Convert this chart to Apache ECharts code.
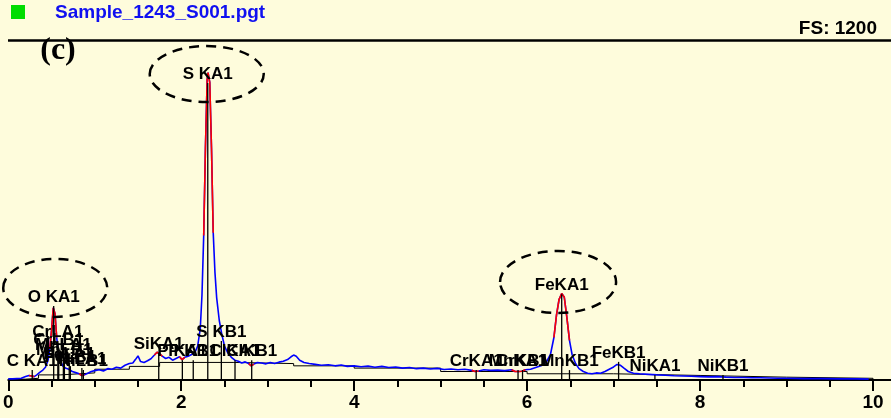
<!DOCTYPE html>
<html>
<head>
<meta charset="utf-8">
<script src="https://cdn.jsdelivr.net/npm/echarts@6/dist/echarts.min.js"></script>
<style>
html,body{margin:0;padding:0;background:#FEFCDC;}
#chart{width:891px;height:418px;}
</style>
</head>
<body>
<div id="chart"></div>
<script>
// ---- DATA ----
const title = 'Sample_1243_S001.pgt';
const fullScale = 'FS: 1200';
const panelTag = '(c)';
const xTicks = [0, 2, 4, 6, 8, 10];

// measured spectrum (keV, counts)
const energies = [0.00,0.05,0.10,0.15,0.20,0.24,0.27,0.30,0.33,0.36,0.40,0.43,0.46,0.48,0.50,0.52,0.54,0.56,0.58,0.60,0.63,0.66,0.70,0.74,0.78,0.82,0.85,0.88,0.92,0.96,1.00,1.05,1.10,1.15,1.20,1.25,1.30,1.35,1.40,1.44,1.47,1.50,1.53,1.57,1.61,1.65,1.69,1.72,1.75,1.78,1.82,1.86,1.90,1.94,1.98,2.01,2.04,2.08,2.12,2.16,2.19,2.22,2.24,2.26,2.28,2.30,2.31,2.33,2.35,2.37,2.39,2.41,2.44,2.47,2.50,2.54,2.58,2.62,2.66,2.70,2.74,2.78,2.81,2.84,2.88,2.93,2.98,3.03,3.08,3.13,3.18,3.23,3.27,3.30,3.33,3.37,3.42,3.48,3.55,3.62,3.70,3.78,3.85,3.92,4.00,4.08,4.16,4.24,4.32,4.40,4.48,4.56,4.64,4.72,4.80,4.88,4.96,5.04,5.12,5.20,5.28,5.36,5.40,5.44,5.50,5.58,5.66,5.74,5.82,5.86,5.90,5.94,5.98,6.04,6.10,6.16,6.22,6.27,6.31,6.34,6.37,6.40,6.43,6.46,6.49,6.52,6.56,6.60,6.65,6.70,6.75,6.80,6.85,6.90,6.95,7.00,7.04,7.08,7.12,7.17,7.23,7.30,7.40,7.50,7.60,7.70,7.80,7.90,8.00,8.10,8.20,8.30,8.40,8.50,8.60,8.70,8.80,8.90,9.00,9.20,9.40,9.60,9.80,9.95];
const counts = [4,4,5,6,12,16,14,12,18,26,35,45,70,110,175,255,235,150,95,70,50,42,38,30,26,22,16,18,24,30,33,36,32,40,38,45,42,52,58,60,72,85,65,62,68,75,88,98,92,84,76,80,70,76,82,72,80,84,90,98,120,180,300,510,820,1060,1085,1050,820,520,380,290,210,160,120,95,80,70,66,60,64,58,50,56,62,60,57,62,58,63,66,72,82,88,84,70,62,58,55,52,54,50,53,48,50,47,49,45,48,44,46,42,44,40,42,39,41,37,39,36,38,34,30,32,36,34,35,33,36,30,30,31,36,38,44,50,62,90,150,230,285,305,292,220,140,90,58,40,30,24,22,25,24,30,38,46,55,52,42,30,24,22,20,18,17,15,14,13,12,11,12,10,9,9,8,8,7,6,6,5,5,4,4,3];

// highlighted regions of interest (keV ranges)
const roiStart = [0.24,0.48,0.82,1.69,1.98,2.26,2.78,5.36,5.82,6.31];
const roiEnd   = [0.30,0.56,0.88,1.78,2.04,2.37,2.84,5.44,5.98,6.49];

// fitted background (keV, counts)
const bgEnergies = [0,0.2,0.35,0.6,1.0,1.4,1.75,2.6,3.3,4.0,5.0,6.0,7.0,8.0,9.0,10.0];
const bgCounts   = [3,6,18,25,38,48,62,58,50,42,30,22,16,10,6,3];

// line identifications: name, energy (keV), label height (counts)
const lineNames    = ['C KA1','CrLA1','CrLB1','MnLA1','MnLB1','FeLA1','FeLB1','NiLA1','NiLB1','O KA1','SiKA1','P KA1','P KB1','S KA1','S KB1','ClKA1','ClKB1','CrKA1','MnKA1','CrKB1','FeKA1','MnKB1','FeKB1','NiKA1','NiKB1'];
const lineEnergies = [0.277,0.573,0.583,0.637,0.649,0.705,0.718,0.851,0.868,0.525,1.740,2.013,2.139,2.307,2.464,2.622,2.815,5.411,5.895,5.947,6.400,6.490,7.058,7.478,8.265];
const lineHeights  = [35,138,109,92,74,60,49,42,35,261,95,70,70,1048,138,70,70,35,35,35,303,35,64,18,18];

// circled lines: energy, counts of ellipse centre
const circleEnergies = [0.543,2.295,6.358];
const circleCounts   = [325,1080,346];

// ---- BUILD ----
const spectrum = energies.map((e,i)=>[e,counts[i]]);
const roiData = [];
roiStart.forEach((s,k)=>{
  spectrum.forEach(p=>{ if(p[0]>=s-1e-9 && p[0]<=roiEnd[k]+1e-9) roiData.push(p); });
  roiData.push([null,null]);
});
const bgData = bgEnergies.map((e,i)=>[e,bgCounts[i]]);
const lineData = lineNames.map((n,i)=>[lineEnergies[i], lineHeights[i], n]);

const chart = echarts.init(document.getElementById('chart'), null, {renderer:'canvas'});
const option = {
  animation:false,
  backgroundColor:'#FEFCDC',
  grid:{left:8,right:18,top:40,bottom:38,containLabel:false},
  xAxis:{
    type:'value',min:0,max:10,interval:2,
    axisLine:{show:true,onZero:false,lineStyle:{color:'#000',width:2}},
    axisTick:{show:true,length:11,lineStyle:{color:'#000',width:2}},
    minorTick:{show:true,splitNumber:4,length:7,lineStyle:{color:'#000',width:2}},
    splitLine:{show:false},
    axisLabel:{color:'#000',fontFamily:'Liberation Sans',fontWeight:'bold',fontSize:19,margin:13,
      formatter:v=> xTicks.includes(v) ? String(v) : ''}
  },
  yAxis:{type:'value',min:0,max:1200,show:false},
  series:[
    {type:'line',data:bgData,step:'end',symbol:'none',lineStyle:{color:'#000',width:1},z:1},
    {type:'line',data:spectrum,symbol:'none',lineStyle:{color:'#0000FF',width:1.6},z:2},
    {type:'line',data:roiData,symbol:'none',connectNulls:false,lineStyle:{color:'#FF0000',width:1.6},z:3},
    {type:'custom',z:4,data:lineData.map(d=>[d[0],d[1]]),
      renderItem:function(params,api){
        const p0 = api.coord([api.value(0),0]);
        const p1 = api.coord([api.value(0),api.value(1)]);
        return {type:'line',shape:{x1:p0[0],y1:p0[1],x2:p1[0],y2:p1[1]},
          style:{stroke:'#000',lineWidth:1.3}};
      }},
    {type:'scatter',z:5,data:lineData,symbolSize:0,itemStyle:{opacity:1},
      label:{show:true,position:'top',distance:0,formatter:p=>p.data[2],opacity:1,
        color:'#000',fontFamily:'Liberation Sans',fontWeight:'bold',fontSize:17}}
  ]
};
chart.setOption(option);

const W = chart.getWidth();
const axisY = chart.convertToPixel({gridIndex:0},[10,0]);
const graphics = [
  {type:'rect',shape:{x:11,y:5,width:14,height:14},style:{fill:'#00DD00'}},
  {type:'text',style:{text:title,x:55,y:13,fill:'#1010F0',font:'bold 19px "Liberation Sans"',textVerticalAlign:'middle'}},
  {type:'text',style:{text:fullScale,x:877,y:29,fill:'#000',font:'bold 19px "Liberation Sans"',textAlign:'right',textVerticalAlign:'middle'}},
  {type:'line',shape:{x1:8,y1:40.5,x2:W,y2:40.5},style:{stroke:'#000',lineWidth:2.5}},
  {type:'line',shape:{x1:axisY[0],y1:axisY[1],x2:W,y2:axisY[1]},style:{stroke:'#000',lineWidth:2}},
  {type:'text',style:{text:panelTag,x:58,y:51,fill:'#000',font:'bold 32px "Liberation Serif"',textAlign:'center',textVerticalAlign:'middle'}}
];
const radX = [52,57,58], radY = [29,28,31];
circleEnergies.forEach((e,i)=>{
  const c = chart.convertToPixel({gridIndex:0},[e,circleCounts[i]]);
  graphics.push({type:'ellipse',shape:{cx:c[0],cy:c[1],rx:radX[i],ry:radY[i]},
    style:{fill:null,stroke:'#000',lineWidth:2.5,lineDash:[10,7]},z:100});
});
chart.setOption({graphic:graphics});
</script>
</body>
</html>
